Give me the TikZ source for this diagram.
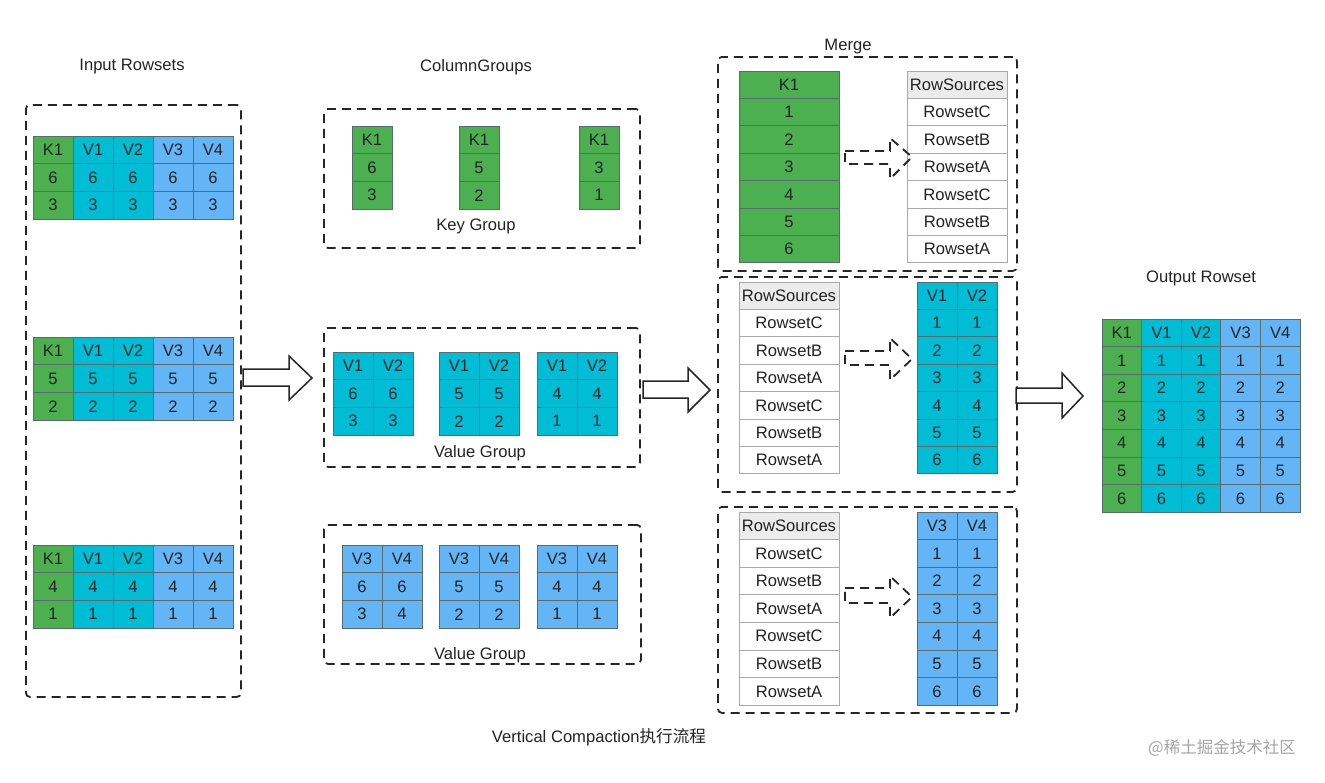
\documentclass[tikz,border=0pt]{standalone}
\usepackage{fontspec}
\setmainfont{Liberation Sans}
\newfontfamily\cjk{Noto Sans CJK SC}
\definecolor{kg}{RGB}{76,175,80}
\definecolor{vt}{RGB}{0,188,212}
\definecolor{vb}{RGB}{100,181,246}
\definecolor{cline}{RGB}{88,108,112}
\definecolor{rline}{RGB}{170,170,170}
\definecolor{rhead}{RGB}{236,236,236}
\definecolor{txt}{RGB}{35,35,35}
\definecolor{wm}{RGB}{165,165,165}
\newcommand{\fs}{\fontsize{16.6}{19}\selectfont}
\tikzset{
  cellbox/.style={draw=cline, line width=0.8pt, fill=#1, anchor=north west, inner sep=0pt, outer sep=0pt,
    minimum width=40pt, minimum height=27.7pt, font=\fs, text=txt},
  rsbox/.style={draw=rline, line width=0.9pt, fill=#1, anchor=north west, inner sep=0pt, outer sep=0pt,
    minimum width=100pt, minimum height=27.5pt, font=\fs, text=txt},
  dbox/.style={draw=black!85, line width=1.8pt, dash pattern=on 9pt off 6pt, rounded corners=4pt,
    anchor=north west, inner sep=0pt},
  lbl/.style={font=\fs, text=txt, inner sep=0pt},
  bigarrow/.style={draw=black!85, line width=1.5pt, fill=white, line join=miter},
  darrow/.style={draw=black!85, line width=1.8pt, dash pattern=on 9pt off 6pt},
}
\begin{document}
\begin{tikzpicture}[x=1pt,y=-1pt]
\useasboundingbox (0,0) rectangle (1325,782);

% ---------- dashed frames ----------
\node[dbox, minimum width=215pt, minimum height=592pt] (inbox) at (25,104) {};
\node[dbox, minimum width=316pt, minimum height=139pt] (cg1) at (323,108) {};
\node[dbox, minimum width=316pt, minimum height=139pt] (cg2) at (323,327) {};
\node[dbox, minimum width=317pt, minimum height=139pt] (cg3) at (323,524) {};
\node[dbox, minimum width=299pt, minimum height=214pt] (m1) at (717,56) {};
\node[dbox, minimum width=299pt, minimum height=215pt] (m2) at (717,276) {};
\node[dbox, minimum width=299pt, minimum height=206pt] (m3) at (717,506) {};

% ---------- titles ----------
\node[lbl] (tin) at (132,67) {Input Rowsets};
\node[lbl] (tcg) at (476,67) {ColumnGroups};
\node[lbl] (tkg) at (476,226) {Key Group};
\node[lbl] (tvg1) at (480,453) {Value Group};
\node[lbl] (tvg2) at (480,655) {Value Group};
\node[lbl, fill=white, inner xsep=2pt, inner ysep=1pt] (tm) at (848,47) {Merge};
\node[lbl] (tout) at (1201,278) {Output Rowset};
\node[lbl] (cap) at (599,737) {Vertical Compaction{\cjk 执行流程}};
\node[font=\cjk\fontsize{16.5}{19}\selectfont, text=wm, inner sep=0pt] (wmk) at (1222,748) {@稀土掘金技术社区};

% ---------- input rowsets ----------
\foreach \t/\T/\a/\b in {A/136/6/3, B/337/5/2, C/545/4/1} {
  \foreach \c/\h/\f in {0/K1/kg, 1/V1/vt, 2/V2/vt, 3/V3/vb, 4/V4/vb} {
    \node[cellbox=\f] (in\t h\c) at ({33+\c*40},{\T}) {\h};
    \node[cellbox=\f] (in\t a\c) at ({33+\c*40},{\T+27.7}) {\a};
    \node[cellbox=\f] (in\t b\c) at ({33+\c*40},{\T+55.4}) {\b};
  }
}

% ---------- key group ----------
\foreach \t/\X/\a/\b in {A/352/6/3, B/459/5/2, C/579/3/1} {
  \node[cellbox=kg] (kg\t h) at (\X,126) {K1};
  \node[cellbox=kg] (kg\t a) at (\X,153.7) {\a};
  \node[cellbox=kg] (kg\t b) at (\X,181.4) {\b};
}

% ---------- value group V1 V2 ----------
\foreach \t/\X/\a/\b in {A/333/6/3, B/439/5/2, C/537/4/1} {
  \node[cellbox=vt] (va\t h1) at (\X,352) {V1};
  \node[cellbox=vt] (va\t h2) at ({\X+40},352) {V2};
  \node[cellbox=vt] (va\t a1) at (\X,379.7) {\a};
  \node[cellbox=vt] (va\t a2) at ({\X+40},379.7) {\a};
  \node[cellbox=vt] (va\t b1) at (\X,407.4) {\b};
  \node[cellbox=vt] (va\t b2) at ({\X+40},407.4) {\b};
}

% ---------- value group V3 V4 ----------
\foreach \t/\X/\a/\aa/\b/\bb in {A/342/6/6/3/4, B/439/5/5/2/2, C/537/4/4/1/1} {
  \node[cellbox=vb] (vb\t h1) at (\X,545) {V3};
  \node[cellbox=vb] (vb\t h2) at ({\X+40},545) {V4};
  \node[cellbox=vb] (vb\t a1) at (\X,572.7) {\a};
  \node[cellbox=vb] (vb\t a2) at ({\X+40},572.7) {\aa};
  \node[cellbox=vb] (vb\t b1) at (\X,600.4) {\b};
  \node[cellbox=vb] (vb\t b2) at ({\X+40},600.4) {\bb};
}

% ---------- merge 1 ----------
\foreach \r/\v in {0/K1,1/1,2/2,3/3,4/4,5/5,6/6} {
  \node[cellbox=kg, minimum width=100pt, minimum height=27.4pt] (mk\r) at (739,{71+\r*27.4}) {\v};
}
\node[rsbox=rhead, minimum height=27.4pt] (rs1h) at (907,71) {RowSources};
\foreach \r/\v in {1/RowsetC,2/RowsetB,3/RowsetA,4/RowsetC,5/RowsetB,6/RowsetA} {
  \node[rsbox=white, minimum height=27.4pt] (rs1\r) at (907,{71+\r*27.4}) {\v};
}

% ---------- merge 2 ----------
\node[rsbox=rhead, minimum height=27.4pt] (rs2h) at (739,282) {RowSources};
\foreach \r/\v in {1/RowsetC,2/RowsetB,3/RowsetA,4/RowsetC,5/RowsetB,6/RowsetA} {
  \node[rsbox=white, minimum height=27.4pt] (rs2\r) at (739,{282+\r*27.4}) {\v};
}
\foreach \r/\v/\w in {0/V1/V2,1/1/1,2/2/2,3/3/3,4/4/4,5/5/5,6/6/6} {
  \node[cellbox=vt, minimum height=27.4pt] (mv\r a) at (917,{282+\r*27.4}) {\v};
  \node[cellbox=vt, minimum height=27.4pt] (mv\r b) at (957,{282+\r*27.4}) {\w};
}

% ---------- merge 3 ----------
\node[rsbox=rhead, minimum height=27.6pt] (rs3h) at (739,512) {RowSources};
\foreach \r/\v in {1/RowsetC,2/RowsetB,3/RowsetA,4/RowsetC,5/RowsetB,6/RowsetA} {
  \node[rsbox=white, minimum height=27.6pt] (rs3\r) at (739,{512+\r*27.6}) {\v};
}
\foreach \r/\v/\w in {0/V3/V4,1/1/1,2/2/2,3/3/3,4/4/4,5/5/5,6/6/6} {
  \node[cellbox=vb, minimum height=27.6pt] (mw\r a) at (917,{512+\r*27.6}) {\v};
  \node[cellbox=vb, minimum height=27.6pt] (mw\r b) at (957,{512+\r*27.6}) {\w};
}

% ---------- output rowset ----------
\foreach \r/\v in {0/H,1/1,2/2,3/3,4/4,5/5,6/6} {
  \foreach \c/\h/\f in {0/K1/kg, 1/V1/vt, 2/V2/vt, 3/V3/vb, 4/V4/vb} {
    \ifnum\r=0
      \node[cellbox=\f, minimum width=39.6pt, minimum height=27.6pt] (out\r\c) at ({1102+\c*39.6},319) {\h};
    \else
      \node[cellbox=\f, minimum width=39.6pt, minimum height=27.6pt] (out\r\c) at ({1102+\c*39.6},{319+\r*27.6}) {\v};
    \fi
  }
}

% ---------- hollow arrows ----------
\draw[bigarrow] (243,369) -- (289,369) -- (289,356) -- (312,378) -- (289,400) -- (289,386) -- (243,386) -- cycle;
\draw[bigarrow] (643,381) -- (688,381) -- (688,368) -- (710,390) -- (688,412) -- (688,398) -- (643,398) -- cycle;
\draw[bigarrow] (1016,388) -- (1062,388) -- (1062,373) -- (1083,396) -- (1062,418) -- (1062,403) -- (1016,403) -- cycle;

% ---------- dashed arrows ----------
\draw[darrow] (845,151) -- (890,151) -- (890,138) -- (912,157) -- (890,179) -- (890,164) -- (845,164) -- cycle;
\draw[darrow] (845,351) -- (890,351) -- (890,338) -- (912,359) -- (890,380) -- (890,365) -- (845,365) -- cycle;
\draw[darrow] (845,588) -- (890,588) -- (890,576) -- (912,597) -- (890,618) -- (890,603) -- (845,603) -- cycle;
\end{tikzpicture}
\end{document}
